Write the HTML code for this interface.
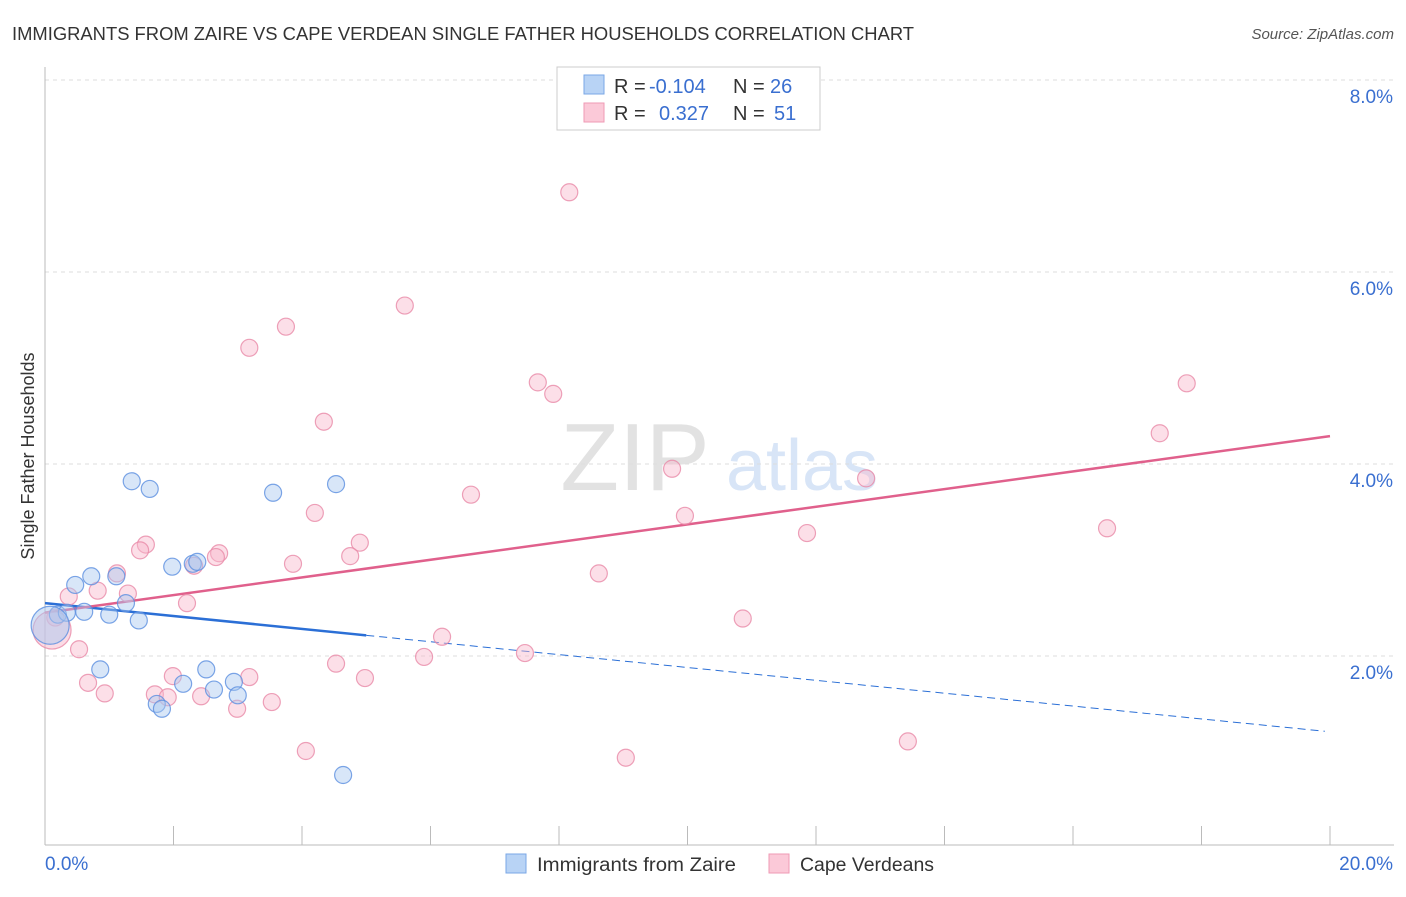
<!DOCTYPE html>
<html><head><meta charset="utf-8"><style>
body{margin:0;background:#fff;font-family:"Liberation Sans",sans-serif}
svg text{font-family:"Liberation Sans",sans-serif}
</style></head><body>
<svg id="c" width="1406" height="892" viewBox="0 0 1406 892">
<text x="12" y="40" font-size="18" fill="#333" textLength="902" lengthAdjust="spacingAndGlyphs">IMMIGRANTS FROM ZAIRE VS CAPE VERDEAN SINGLE FATHER HOUSEHOLDS CORRELATION CHART</text>
<text x="1394" y="39" font-size="15" fill="#555" font-style="italic" text-anchor="end">Source: ZipAtlas.com</text>
<text transform="translate(34,456) rotate(-90)" font-size="18" fill="#333" text-anchor="middle">Single Father Households</text>
<g><text x="635" y="490" font-size="96" fill="#e2e2e2" font-family="Liberation Serif" text-anchor="middle">ZIP</text><text x="802" y="490" font-size="72" fill="#d8e5f7" text-anchor="middle">atlas</text></g>
<g id="grid"></g><g id="axes"></g><g id="lines"></g><g id="pts"></g>
<g>
<rect x="557" y="67" width="263" height="63" fill="#fff" stroke="#ccc"/>
<rect x="584" y="75" width="20" height="19" fill="#b8d3f5" stroke="#7aa7e6"/>
<rect x="584" y="103" width="20" height="19" fill="#fbc9d8" stroke="#ef9ab5"/>
<text y="93" font-size="20" fill="#333"><tspan x="614">R =</tspan><tspan x="649" fill="#3a6fd0">-0.104</tspan><tspan x="733">N =</tspan><tspan x="770" fill="#3a6fd0">26</tspan></text>
<text y="120" font-size="20" fill="#333"><tspan x="614">R =</tspan><tspan x="659" fill="#3a6fd0">0.327</tspan><tspan x="733">N =</tspan><tspan x="774" fill="#3a6fd0">51</tspan></text>
</g>
<g>
<rect x="506" y="854" width="20" height="19" fill="#b8d3f5" stroke="#7aa7e6"/>
<text x="537" y="871" font-size="19" fill="#333" textLength="199" lengthAdjust="spacingAndGlyphs">Immigrants from Zaire</text>
<rect x="769" y="854" width="20" height="19" fill="#fbc9d8" stroke="#ef9ab5"/>
<text x="800" y="871" font-size="19" fill="#333" textLength="134" lengthAdjust="spacingAndGlyphs">Cape Verdeans</text>
</g>
</svg>
<script>
const yTicks=[2,4,6,8];
const yTickLabels=["2.0%","4.0%","6.0%","8.0%"];
const xLabels=["0.0%","20.0%"];
const zaireX=[1.35,1.63,3.55,4.53,0.47,0.72,1.11,0.20,0.34,0.61,1.00,1.26,1.46,1.98,2.30,2.37,0.86,2.51,2.15,2.63,2.94,3.00,1.74,1.82,4.64,0.08];
const zaireY=[3.81,3.73,3.69,3.78,2.73,2.82,2.82,2.42,2.44,2.45,2.42,2.54,2.36,2.92,2.95,2.97,1.85,1.85,1.70,1.64,1.72,1.58,1.49,1.44,0.75,2.31];
const capeX=[8.16,5.60,3.75,3.18,4.34,7.67,7.91,17.77,17.35,9.76,12.78,6.63,9.96,11.86,16.53,4.20,1.57,1.48,4.90,4.75,2.71,2.66,3.86,2.32,1.12,8.62,1.29,0.82,0.37,2.21,0.16,10.86,6.18,7.47,0.53,5.90,4.53,1.99,3.18,4.98,0.67,0.93,1.71,1.91,2.43,2.99,3.53,4.06,9.04,13.43,0.11];
const capeY=[6.82,5.64,5.42,5.20,4.43,4.84,4.72,4.83,4.31,3.94,3.84,3.67,3.45,3.27,3.32,3.48,3.15,3.09,3.17,3.03,3.06,3.02,2.95,2.93,2.85,2.85,2.64,2.67,2.61,2.54,2.39,2.38,2.19,2.02,2.06,1.98,1.91,1.78,1.77,1.76,1.71,1.60,1.59,1.56,1.57,1.44,1.51,1.00,0.93,1.10,2.26];
const zaireTrend=[2.54,-0.067];
const capeTrend=[2.44,0.092];
const X=v=>45+v*64.25, Y=v=>847-v*96;
const NS="http://www.w3.org/2000/svg";
function mk(p,t,a){const e=document.createElementNS(NS,t);for(const k in a)e.setAttribute(k,a[k]);p.appendChild(e);return e;}
const grid=document.getElementById('grid'),axes=document.getElementById('axes'),lines=document.getElementById('lines'),pts=document.getElementById('pts');
yTicks.forEach((t,i)=>{
 const l=mk(grid,'line',{x1:45,x2:1394,y1:Y(t)+1,y2:Y(t)+1,stroke:'#ddd','stroke-dasharray':'4,4'});
 
 
 const tx=mk(grid,'text',{x:1393,y:Y(t)+24,'font-size':19,fill:'#3a6fd0','text-anchor':'end'});tx.textContent=yTickLabels[i];
 
 
});
const ax=mk(axes,'line',{x1:45,x2:45,y1:67,y2:845,stroke:'#bbb'});


const bx=mk(axes,'line',{x1:45,x2:1394,y1:845,y2:845,stroke:'#bbb'});


for(let i=0;i<=10;i++){const t=mk(axes,'line',{x1:X(i*2),x2:X(i*2),y1:826,y2:845,stroke:'#bbb'});
 
 }
const xl0=mk(axes,'text',{x:45,y:870,'font-size':19,fill:'#3a6fd0'});xl0.textContent=xLabels[0];


const xl1=mk(axes,'text',{x:1393,y:870,'font-size':19,fill:'#3a6fd0','text-anchor':'end'});xl1.textContent=xLabels[1];


function dots(xs,ys,fill,stroke,name){xs.forEach((x,i)=>{const big=i===xs.length-1;
 const c=mk(pts,'circle',{cx:X(x),cy:Y(ys[i]),r:big?19:8.5,fill:fill,'fill-opacity':big?0.5:0.45,stroke:stroke,'stroke-width':1.2,'stroke-opacity':0.8});
 
 });}
dots(capeX,capeY,'#f8b8cc','#e88aa8','cape-verdean-point');
dots(zaireX,zaireY,'#a9c8f0','#5b8ee0','zaire-point');
const b1=mk(lines,'line',{x1:X(0),y1:Y(zaireTrend[0]),x2:X(5.0),y2:Y(zaireTrend[0]+zaireTrend[1]*5),stroke:'#2b6fd6','stroke-width':2.5});


const b2=mk(lines,'line',{x1:X(5.0),y1:Y(zaireTrend[0]+zaireTrend[1]*5),x2:X(19.92),y2:Y(zaireTrend[0]+zaireTrend[1]*19.92),stroke:'#2b6fd6','stroke-width':1,'stroke-dasharray':'8,5'});


const p1=mk(lines,'line',{x1:X(0),y1:Y(capeTrend[0]),x2:X(20),y2:Y(capeTrend[0]+capeTrend[1]*20),stroke:'#e0608c','stroke-width':2.5});


</script>
</body></html>
